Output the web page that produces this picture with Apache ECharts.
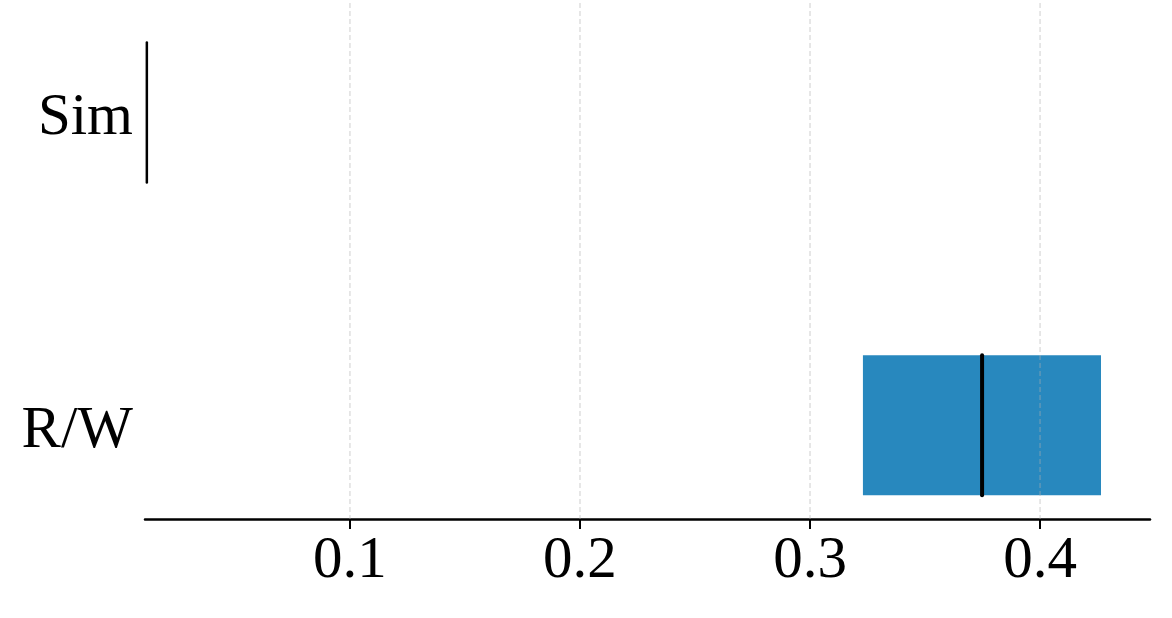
<!DOCTYPE html>
<html>
<head>
<meta charset="utf-8">
<script src="https://cdn.jsdelivr.net/npm/echarts@6/dist/echarts.min.js"></script>
<style>
  html, body { margin: 0; padding: 0; background: #fff; }
  #main { width: 1172px; height: 618px; }
</style>
</head>
<body>
<div id="main"></div>
<script>
// 类别（从上到下：Sim 在上，R/W 在下）
var categories = ['R/W', 'Sim'];
// 箱体：下四分位、中位数、上四分位
var q1 = [0.323, 0.0117];
var medians = [0.3748, 0.0117];
var q3 = [0.4265, 0.0117];
// 横轴刻度
var xTicks = [0.1, 0.2, 0.3, 0.4];

var font = '"Liberation Serif", "DejaVu Serif", serif';

var boxData = categories.map(function (c, i) {
    return [q1[i], medians[i], q3[i], i];
});

var chart = echarts.init(document.getElementById('main'));
chart.setOption({
    animation: false,
    grid: { left: 145, right: 22, top: 3, bottom: 99 },
    xAxis: {
        type: 'value',
        min: 0.0109,
        max: 0.4478,
        axisLine: { show: true, onZero: false, lineStyle: { color: '#000', width: 2.5 } },
        axisTick: {
            show: true, inside: false, length: 10, customValues: xTicks,
            lineStyle: { color: '#000', width: 2 }
        },
        axisLabel: {
            customValues: xTicks, margin: 13,
            fontFamily: font, fontSize: 59, color: '#000',
            formatter: function (v) { return v.toFixed(1); }
        },
        splitLine: { show: false }
    },
    yAxis: {
        type: 'value',
        min: -0.3,
        max: 1.35,
        axisLine: { show: false },
        axisTick: { show: false },
        splitLine: { show: false },
        axisLabel: {
            customValues: [0, 1], margin: 12,
            formatter: function (v) { return '{a|' + categories[Math.round(v)] + '}'; },
            rich: {
                a: { fontFamily: font, fontSize: 59, color: '#000', padding: [12, 0, 0, 0] }
            }
        }
    },
    series: [
        {
            type: 'custom',
            data: boxData,
            z: 2,
            renderItem: function (params, api) {
                var y = api.value(3);
                var h = 0.224;
                var a = api.coord([api.value(0), y + h]);
                var b = api.coord([api.value(2), y - h]);
                var m1 = api.coord([api.value(1), y + h]);
                var m2 = api.coord([api.value(1), y - h]);
                return {
                    type: 'group',
                    children: [
                        {
                            type: 'rect',
                            shape: { x: a[0], y: a[1], width: b[0] - a[0], height: b[1] - a[1] },
                            style: { fill: '#2888be' }
                        },
                        {
                            type: 'line',
                            shape: { x1: m1[0], y1: m1[1], x2: m2[0], y2: m2[1] },
                            style: { stroke: '#000', lineWidth: y === 0 ? 4 : 2.5, lineCap: 'round' }
                        }
                    ]
                };
            }
        },
        {
            // 虚线网格（画在箱体上面，半透明）
            type: 'custom',
            data: xTicks.map(function (t) { return [t]; }),
            z: 3,
            renderItem: function (params, api) {
                var top = api.coord([api.value(0), 1.35]);
                var bot = api.coord([api.value(0), -0.3]);
                return {
                    type: 'line',
                    shape: { x1: top[0], y1: top[1], x2: bot[0], y2: bot[1] },
                    style: { stroke: 'rgba(176,176,176,0.5)', lineWidth: 1.2, lineDash: [5, 3] }
                };
            }
        }
    ]
});
</script>
</body>
</html>
